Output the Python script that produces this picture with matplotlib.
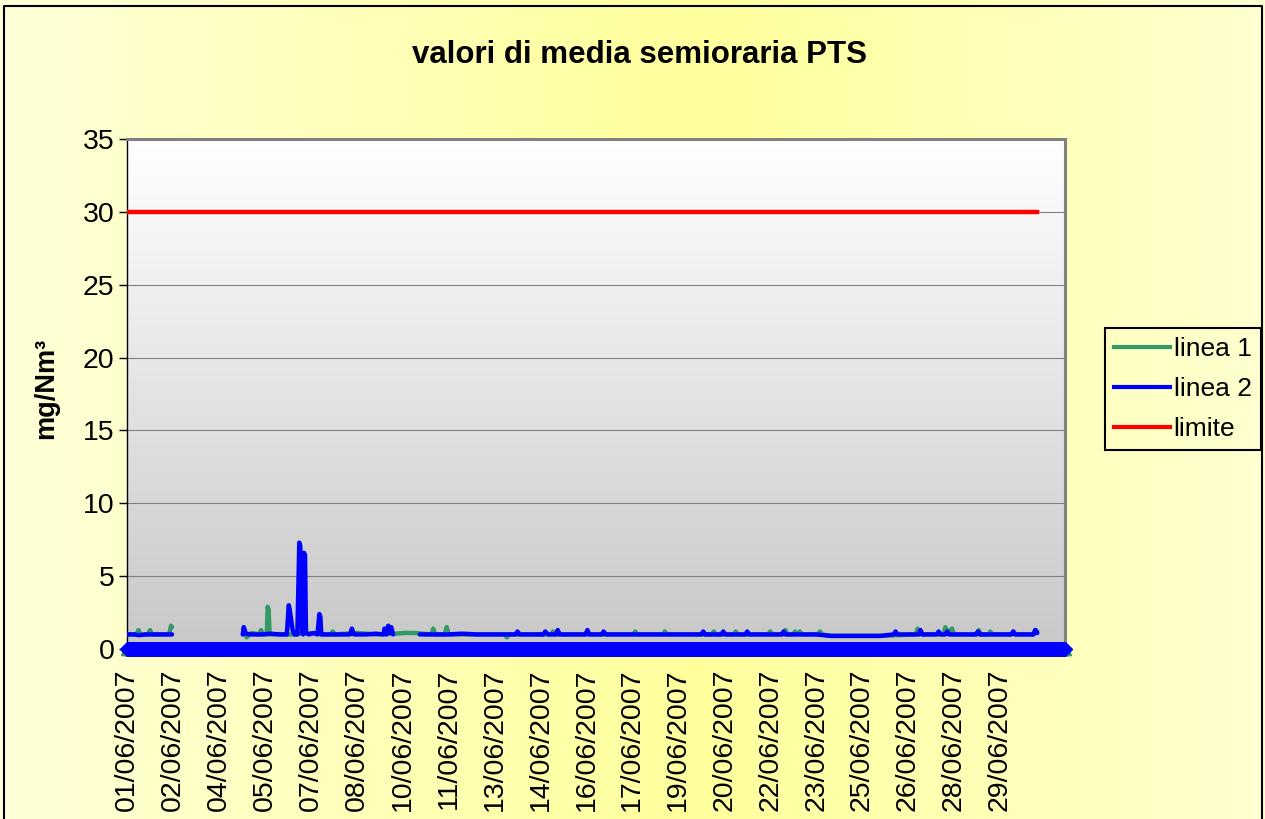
import matplotlib
matplotlib.use("Agg")
import matplotlib.pyplot as plt
from matplotlib.colors import LinearSegmentedColormap
from matplotlib.lines import Line2D
import numpy as np

plt.rcParams['font.family'] = ['Liberation Sans', 'DejaVu Sans']

nan = float('nan')

# category positions (half-hour samples) and values
linea1_idx = [0, 10, 12, 14, 22, 24, 26, 44, 46, 47, 48,
              121, 123, 125, 130, 138, 140, 142, 146, 147, 148, 149, 160, 175, 190, 205,
              213, 215, 217, 240, 260, 280, 290, 300, 318, 320, 322, 332, 334, 336, 366,
              395, 397, 399, 443, 445, 447, 529, 531, 533, 560, 562, 564, 611, 613, 615,
              634, 636, 638, 670, 672, 674, 686, 688, 690, 696, 698, 700, 703, 705, 722,
              724, 726, 735, 787, 824, 826, 828, 853, 855, 857, 862, 864, 888, 890, 892,
              900, 902, 904, 924, 926, 928, 947, 949, 951]
linea1_val = [1.0, 1.0, 1.3, 1.0, 1.0, 1.3, 1.0, 1.0, 1.6, 1.5, nan,
              1.0, 1.3, 0.8, 1.1, 1.0, 1.3, 1.0, 1.0, 2.9, 2.7, 1.0, 1.0, 1.0, 1.1, 1.0,
              1.0, 1.2, 1.0, 1.1, 1.0, 1.05, 1.1, 1.1, 1.0, 1.4, 1.0, 1.0, 1.5, 1.0, 1.0,
              1.0, 0.8, 1.0, 1.0, 1.2, 1.0, 1.0, 1.2, 1.0, 1.0, 1.2, 1.0, 1.0, 1.2, 1.0,
              1.0, 1.2, 1.0, 1.0, 1.2, 1.0, 1.0, 1.3, 1.0, 1.0, 1.2, 1.0, 1.2, 1.0, 1.0,
              1.2, 1.0, 0.9, 0.9, 1.0, 1.4, 1.0, 1.0, 1.5, 1.1, 1.4, 1.0, 1.0, 1.3, 1.0,
              1.0, 1.2, 1.0, 1.0, 1.2, 1.0, 1.0, 1.3, 1.2]

linea2_idx = [0, 8, 12, 20, 30, 38, 47, 48,
              121, 122, 124, 130, 140, 150, 160, 167, 169, 170, 173, 175, 178, 180, 181,
              182, 183, 184, 185, 186, 187, 190, 195, 199, 201, 202, 203, 210, 220, 233,
              235, 237, 250, 260, 268, 269, 271, 273, 274, 276, 278, 279,
              306, 320, 335, 350, 366, 380, 397, 406, 408, 410, 435, 437, 440, 448, 450,
              452, 479, 481, 483, 496, 498, 500, 530, 560, 600, 602, 604, 621, 623, 625,
              646, 648, 650, 684, 686, 688, 720, 735, 787, 801, 803, 805, 827, 829, 831,
              846, 848, 850, 855, 857, 859, 887, 889, 891, 924, 926, 928, 947, 949, 951]
linea2_val = [1.0, 1.0, 0.95, 1.0, 1.0, 1.0, 1.0, nan,
              1.0, 1.5, 1.05, 1.0, 1.0, 1.05, 1.0, 1.0, 3.0, 2.7, 1.3, 1.0, 1.0, 7.3, 7.1,
              4.8, 1.1, 1.0, 6.6, 6.4, 1.1, 1.0, 1.1, 1.0, 2.4, 2.2, 1.0, 1.0, 1.0, 1.0,
              1.4, 1.0, 1.0, 1.05, 1.0, 1.4, 1.0, 1.6, 1.1, 1.5, 1.0, nan,
              1.0, 1.0, 1.0, 1.05, 1.0, 1.0, 1.0, 1.0, 1.2, 1.0, 1.0, 1.2, 1.0, 1.0, 1.3,
              1.0, 1.0, 1.3, 1.0, 1.0, 1.2, 1.0, 1.0, 1.0, 1.0, 1.2, 1.0, 1.0, 1.2, 1.0,
              1.0, 1.2, 1.0, 1.0, 1.2, 1.0, 1.0, 0.9, 0.9, 1.0, 1.2, 1.0, 1.0, 1.3, 1.0,
              1.0, 1.2, 1.0, 1.0, 1.2, 1.0, 1.0, 1.2, 1.0, 1.0, 1.2, 1.0, 1.0, 1.3, 1.1]

limite_idx = [0, 951]
limite_val = [30, 30]

n_categories = 981
zero_row = np.zeros(n_categories)

date_labels = ['01/06/2007', '02/06/2007', '04/06/2007', '05/06/2007', '07/06/2007',
               '08/06/2007', '10/06/2007', '11/06/2007', '13/06/2007', '14/06/2007',
               '16/06/2007', '17/06/2007', '19/06/2007', '20/06/2007', '22/06/2007',
               '23/06/2007', '25/06/2007', '26/06/2007', '28/06/2007', '29/06/2007']
label_step = 48
tick_step = 33

W, H = 1265, 819
fig = plt.figure(figsize=(W / 100, H / 100), dpi=100)

# yellow chart background
bg = fig.add_axes([0, 0, 1, 1], zorder=-2)
yellow = LinearSegmentedColormap.from_list(
    'yel', ['#FFFFD8', '#FFFF9C', '#FFFFD0'])
grad = np.concatenate([np.linspace(0, 0.5, 700), np.linspace(0.5, 1, 565)])
bg.imshow(grad[None, :], aspect='auto', cmap=yellow, extent=[0, 1, 0, 1])
bg.set_xlim(0, 1)
bg.set_ylim(0, 1)
bg.axis('off')
bg.plot([4 / W, 4 / W, 1262 / W, 1262 / W], [0, 1 - 6 / H, 1 - 6 / H, 0],
        color='black', lw=1.5)

ax = fig.add_axes([127 / W, 1 - 649 / H, 938 / W, 510 / H])
grey = LinearSegmentedColormap.from_list('gr', ['#FFFFFF', '#C8C8C8'])
ax.imshow(np.linspace(0, 1, 256)[:, None], aspect='auto', cmap=grey,
          extent=[0, 1, 0, 1], transform=ax.transAxes, zorder=0)

for y in range(5, 35, 5):
    ax.axhline(y, color='#808080', lw=0.8, zorder=1)

ax.plot(linea1_idx, linea1_val, color='#339966', lw=3.2, zorder=3,
        solid_joinstyle='round', solid_capstyle='round')
ax.plot(linea2_idx, linea2_val, color='#0000FF', lw=3.2, zorder=4,
        solid_joinstyle='round', solid_capstyle='round')
ax.plot(limite_idx, limite_val, color='#FF0000', lw=3.2, zorder=5)

# zero rows drawn with markers along the category axis
ax.plot(np.arange(n_categories), zero_row, ls='none', marker='^', ms=8,
        color='#339966', clip_on=False, zorder=6)
ax.plot(np.arange(n_categories), zero_row, ls='none', marker='D', ms=7,
        color='#0000FF', clip_on=False, zorder=7)

ax.set_xlim(0, n_categories - 1)
ax.set_ylim(0, 35)
ax.set_yticks(range(0, 36, 5))
ax.set_xticks(np.arange(len(date_labels)) * label_step)
ax.set_xticklabels(date_labels, rotation=90)
ax.set_xticks(np.arange(0, n_categories, tick_step), minor=True)
ax.tick_params(axis='x', which='major', length=0, pad=14, labelsize=20.5)
ax.tick_params(axis='x', which='minor', direction='inout', length=10, width=1)
ax.tick_params(axis='y', direction='out', length=6, width=1, pad=3, labelsize=20.5)

for side in ['top', 'right']:
    ax.spines[side].set_color('#808080')
    ax.spines[side].set_linewidth(2.2)
for side in ['left', 'bottom']:
    ax.spines[side].set_color('black')
    ax.spines[side].set_linewidth(1)

fig.text(639 / W, 1 - 55 / H, 'valori di media semioraria PTS', ha='center',
         va='center', fontsize=22.5, fontweight='bold')
fig.text(46 / W, 1 - 388 / H, 'mg/Nm³', rotation=90, ha='center', va='center',
         fontsize=19.5, fontweight='bold')

handles = [Line2D([], [], color='#339966', lw=3),
           Line2D([], [], color='#0000FF', lw=3),
           Line2D([], [], color='#FF0000', lw=3)]
leg = fig.legend(handles, ['linea 1', 'linea 2', 'limite'], loc='center',
                 bbox_to_anchor=(1183 / W, 1 - 389 / H), fontsize=19,
                 frameon=True, fancybox=False, framealpha=1, borderpad=0.35,
                 handlelength=2.1, handletextpad=0.15, labelspacing=0.6,
                 borderaxespad=0)
leg.get_frame().set_facecolor('none')
leg.get_frame().set_edgecolor('black')
leg.get_frame().set_linewidth(1.5)

fig.savefig('out.png', dpi=100)
